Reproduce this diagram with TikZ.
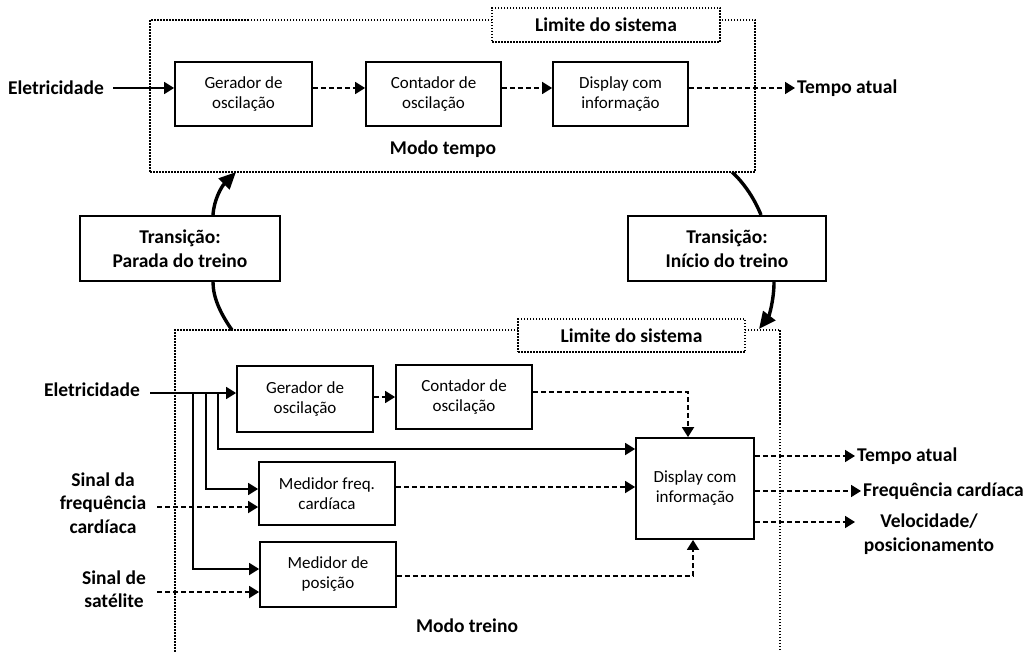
\documentclass[tikz,border=0pt]{standalone}
\usepackage{fontspec}
\setmainfont{Carlito}
\usetikzlibrary{arrows.meta,calc}

\tikzset{
  lblfont/.style={font=\fontsize{19.5}{23.5}\selectfont\bfseries},
  blk/.style={draw, line width=1.8pt, fill=white, align=center, inner sep=0pt,
              font=\fontsize{17}{20}\selectfont},
  transbox/.style={draw, line width=2pt, fill=white, align=center, inner sep=0pt,
              lblfont},
  sysbox/.style={draw, line width=1.8pt, dash pattern=on 1.5pt off 1.5pt, inner sep=0pt},
  limbox/.style={sysbox, fill=white, lblfont},
  lbl/.style={lblfont, align=center, inner sep=2pt},
  flow/.style={line width=1.8pt, -{Triangle[length=10pt,width=12pt]}},
  sig/.style={line width=1.8pt, dash pattern=on 5pt off 3pt, -{Triangle[length=10pt,width=12pt]}},
  trans/.style={line width=3.4pt, -{Triangle[length=17pt,width=15pt]}},
}

\begin{document}
\begin{tikzpicture}[x=1pt,y=-1pt]
\useasboundingbox (0,0) rectangle (1027,652);
\clip (0,0) rectangle (1027,652);

% ---------------- Modo tempo ----------------
\node[sysbox, minimum width=605, minimum height=152] (sysA) at (452.5,96) {};
\node[limbox, minimum width=228, minimum height=34] (limA) at (606,25) {Limite do sistema};

\node[blk, minimum width=137, minimum height=64] (genA) at (243.5,94) {Gerador de\\oscilação};
\node[blk, minimum width=135, minimum height=64] (cntA) at (433.5,94) {Contador de\\oscilação};
\node[blk, minimum width=135, minimum height=64] (dspA) at (620.5,94) {Display com\\informação};

\node[lbl, anchor=east] (elecA) at (106,88) {Eletricidade};
\node[lbl, anchor=west] (tmpA) at (795,88) {Tempo atual};
\node[lbl] (modoA) at (443,149) {Modo tempo};

\coordinate (eA) at (113,88);
\draw[flow] (eA) -- (eA -| genA.west);
\draw[sig] (genA.east |- eA) -- (cntA.west |- eA);
\draw[sig] (cntA.east |- eA) -- (dspA.west |- eA);
\draw[sig] (dspA.east |- eA) -- (tmpA.west);

% ---------------- Transições ----------------
\node[transbox, minimum width=200, minimum height=65] (parada) at (180,248.5) {Transição:\\Parada do treino};
\node[transbox, minimum width=198, minimum height=65] (inicio) at (727,248.5) {Transição:\\Início do treino};

% ---------------- Modo treino ----------------
\node[sysbox, minimum width=605, minimum height=360] (sysB) at (477.5,510) {};
\node[limbox, minimum width=227, minimum height=33] (limB) at (631.5,335.5) {Limite do sistema};

\coordinate (pB1) at (232,330);
\coordinate (pA1) at (236,172);
\coordinate (pA2) at (732,172);
\coordinate (pB2) at (759,329);

\draw[line width=3.4pt] (pB1) .. controls (220,313) and (213,297) .. ($(parada.south)+(33,0)$);
\draw[trans] ($(parada.north)+(33,0)$) .. controls (214,199) and (222,186) .. (pA1);
\draw[line width=3.4pt] (pA2) .. controls (745,184) and (755,200) .. ($(inicio.north)+(34,0)$);
\draw[trans] ($(inicio.south)+(47,0)$) .. controls (774,300) and (769,316) .. (pB2);

\node[blk, minimum width=136, minimum height=66] (genB) at (305,399) {Gerador de\\oscilação};
\node[blk, minimum width=136, minimum height=64] (cntB) at (464,397) {Contador de\\oscilação};
\node[blk, minimum width=136, minimum height=63] (medF) at (327,493.5) {Medidor freq.\\cardíaca};
\node[blk, minimum width=136, minimum height=65] (medP) at (328,574.5) {Medidor de\\posição};
\node[blk, minimum width=118, minimum height=101] (dspB) at (695,488.5) {Display com\\informação};

\node[lbl, anchor=east] (elecB) at (142,390) {Eletricidade};
\node[lbl] (sfc) at (103,503) {Sinal da\\frequência\\cardíaca};
\node[lbl] (sat) at (114,589) {Sinal de\\satélite};
\node[lbl] (modoB) at (467,626) {Modo treino};

\node[lbl, anchor=west] (outT) at (855,456) {Tempo atual};
\node[lbl, anchor=west] (outF) at (861,491) {Frequência cardíaca};
\node[lbl] (outV) at (929,534) {Velocidade/\\posicionamento};

% electricity distribution
\coordinate (eIn) at (150,393);
\coordinate (j1) at (193,393);
\coordinate (j2) at (206,393);
\coordinate (j3) at (218,393);
\draw[flow] (eIn) -- (eIn -| genB.west);
\draw[flow] (j3) |- ($(dspB.west)+(0,-39.5)$);
\draw[flow] (j2) |- ($(medF.west)+(0,-4.5)$);
\draw[flow] (j1) |- ($(medP.west)+(0,-5.5)$);

% external signals
\coordinate (sfcOut) at (157,507);
\coordinate (satOut) at (157,592);
\draw[sig] (sfcOut) -- (sfcOut -| medF.west);
\draw[sig] (satOut) -- (satOut -| medP.west);

% internal signals
\path (genB.east) ++(0,-2) coordinate (gOut);
\path (cntB.east) ++(0,-5) coordinate (cOut);
\path (medF.east) ++(0,-6.5) coordinate (fOut);
\path (medP.east) ++(0,1.5) coordinate (pOut);
\draw[sig] (gOut) -- (gOut -| cntB.west);
\draw[sig] (cOut) -| ($(dspB.north)+(-7,0)$);
\draw[sig] (fOut) -- (fOut -| dspB.west);
\draw[sig] (pOut) -| ($(dspB.south)+(-2,0)$);

% outputs
\coordinate (vIn) at (855,522);
\draw[sig] (dspB.east |- outT.west) -- (outT.west);
\draw[sig] (dspB.east |- outF.west) -- (outF.west);
\draw[sig] (dspB.east |- vIn) -- (vIn);

\end{tikzpicture}
\end{document}
